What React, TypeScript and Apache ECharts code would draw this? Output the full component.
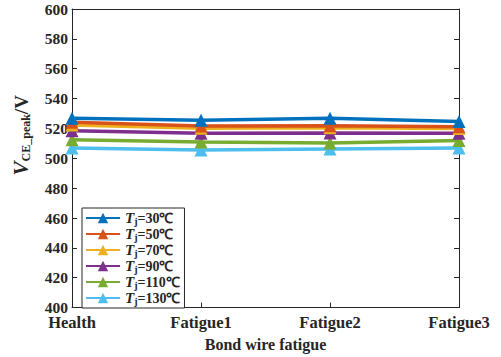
import React, { useEffect, useRef } from "react";
import * as echarts from "echarts";

const categories = ["Health", "Fatigue1", "Fatigue2", "Fatigue3"];
const temps = ["30", "50", "70", "90", "110", "130"];
const seriesNames = temps.map((t) => `Tj=${t}℃`);
const colors = ["#0072BD", "#D95319", "#EDB120", "#7E2F8E", "#77AC30", "#4DBEEE"];
const v30 = [526.8, 525.5, 526.8, 524.6];
const v50 = [524.2, 521.6, 521.8, 521.2];
const v70 = [522.3, 520.2, 520.4, 520.0];
const v90 = [518.5, 516.8, 517.0, 516.8];
const v110 = [512.4, 510.9, 510.3, 512.0];
const v130 = [506.9, 505.5, 506.2, 506.9];
const allValues = [v30, v50, v70, v90, v110, v130];
const yTicks = { min: 400, max: 600, interval: 20 };

const FONT = "'Liberation Serif', 'Times New Roman', serif";

export default function App() {
  const ref = useRef<HTMLDivElement>(null);
  useEffect(() => {
    if (!ref.current) return;
    const chart = echarts.init(ref.current, null, { renderer: "svg" });
    const axisLine = { show: true, lineStyle: { color: "#262626", width: 1 } };
    chart.setOption({
      animation: false,
      backgroundColor: "#fff",
      grid: { left: 72, right: 42, top: 9, bottom: 43, containLabel: false },
      xAxis: [
        {
          type: "category",
          data: categories,
          boundaryGap: false,
          axisLine,
          axisTick: { show: true, inside: true, length: 5, lineStyle: { color: "#262626" } },
          axisLabel: {
            color: "#262626",
            fontFamily: FONT,
            fontWeight: "bold",
            fontSize: 16.5,
            lineHeight: 14,
            margin: 8,
          },
          name: "Bond wire fatigue",
          nameLocation: "middle",
          nameGap: 27,
          nameTextStyle: { color: "#262626", fontFamily: FONT, fontWeight: "bold", fontSize: 16 },
          splitLine: { show: false },
        },
        {
          type: "category",
          data: categories,
          boundaryGap: false,
          position: "top",
          axisLine,
          axisTick: { show: false },
          axisLabel: { show: false },
          splitLine: { show: false },
        },
      ],
      yAxis: [
        {
          type: "value",
          min: yTicks.min,
          max: yTicks.max,
          interval: yTicks.interval,
          axisLine,
          axisTick: { show: true, inside: true, length: 5, lineStyle: { color: "#262626" } },
          axisLabel: {
            color: "#262626",
            fontFamily: FONT,
            fontWeight: "bold",
            fontSize: 15.5,
            lineHeight: 12,
            margin: 4,
          },
          splitLine: { show: false },
          name: "{v|V}{s|CE_peak}{n|/V}",
          nameLocation: "middle",
          nameGap: 40,
          nameTextStyle: {
            color: "#262626",
            fontFamily: FONT,
            rich: {
              v: { fontFamily: FONT, fontStyle: "italic", fontWeight: "bold", fontSize: 21, color: "#262626", padding: [0, 0, 0, 46] },
              s: { fontFamily: FONT, fontWeight: "bold", fontSize: 12, color: "#262626", padding: [10, 0, 0, 0] },
              n: { fontFamily: FONT, fontWeight: "bold", fontSize: 19, color: "#262626" },
            },
          },
        },
        {
          type: "value",
          min: yTicks.min,
          max: yTicks.max,
          interval: yTicks.interval,
          position: "right",
          axisLine,
          axisTick: { show: true, inside: true, length: 5, lineStyle: { color: "#262626" } },
          axisLabel: { show: false },
          splitLine: { show: false },
        },
      ],
      legend: {
        orient: "vertical",
        left: 82,
        top: 208,
        data: seriesNames,
        itemWidth: 34,
        itemHeight: 13,
        itemGap: 0,
        padding: [2, 4, 2, 3],
        borderColor: "#262626",
        borderWidth: 1,
        backgroundColor: "#fff",
        borderRadius: 0,
        formatter: (name: string) => {
          const i = seriesNames.indexOf(name);
          return `{t|T}{s|j}{n|=${temps[i]}℃}`;
        },
        textStyle: {
          color: "#262626",
          fontFamily: FONT,
          lineHeight: 14,
          rich: {
            t: { fontFamily: FONT, fontStyle: "italic", fontWeight: "bold", fontSize: 15, color: "#262626", lineHeight: 14 },
            s: { fontFamily: FONT, fontWeight: "bold", fontSize: 10, color: "#262626", lineHeight: 8, padding: [6, 0, 0, 0] },
            n: { fontFamily: FONT, fontWeight: "bold", fontSize: 14, color: "#262626", lineHeight: 14 },
          },
        },
      },
      series: allValues.map((vals, i) => ({
        name: seriesNames[i],
        type: "line",
        data: vals,
        symbol: "triangle",
        symbolSize: 13,
        color: colors[i],
        lineStyle: { width: 3.5, color: colors[i] },
        itemStyle: { color: colors[i] },
        z: 10 - i,
      })),
    });
    return () => chart.dispose();
  }, []);
  return (
    <div
      ref={ref}
      style={{ width: 501, height: 357, position: "fixed", left: 0, top: 0 }}
    />
  );
}
